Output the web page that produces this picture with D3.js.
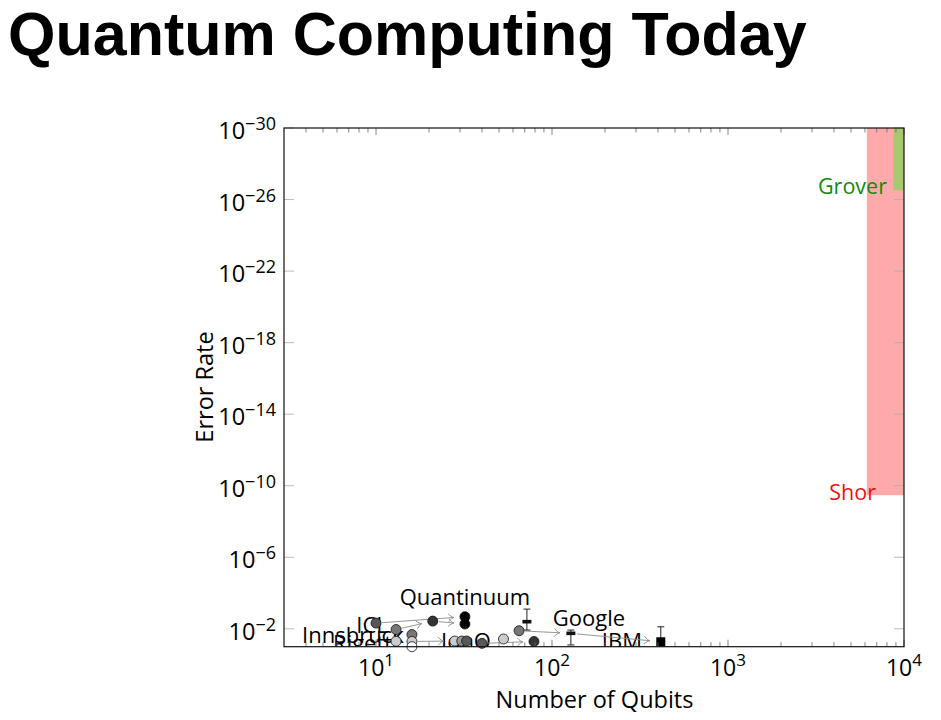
<!DOCTYPE html>
<html><head><meta charset="utf-8">
<script src="https://cdn.jsdelivr.net/npm/d3@7"></script>
<style>body{margin:0;background:#fff} svg{display:block}</style>
</head><body><svg id="c" width="941" height="720"></svg>
<script>
// ---------- data ----------
const title = "Quantum Computing Today";
const xLabel = "Number of Qubits";
const yLabel = "Error Rate";
const xTickExps = [1, 2, 3, 4];
const yTickExps = [-30, -26, -22, -18, -14, -10, -6, -2];

const circleQubits = [10, 13, 13, 16, 16, 16, 21, 32, 32, 28, 30.7, 32.7, 40, 53, 65, 79];
const circleErrors = [0.0048, 0.011, 0.05, 0.021, 0.051, 0.1, 0.0037, 0.0021, 0.0054, 0.048, 0.048, 0.048, 0.065, 0.037, 0.0128, 0.051];
const circleYears  = [2020, 2019, 2017, 2019, 2017, 2016, 2021, 2022, 2022, 2017, 2018, 2020, 2020, 2017, 2019, 2021];

const dashQubits = [72, 128];
const dashErrors = [0.004, 0.0179];
const dashErrLow = [0.00079, 0.0117];
const dashErrHigh = [0.0117, 0.08];

const squareQubits = [415];
const squareErrors = [0.053];
const squareErrLow = [0.0077];
const squareErrHigh = [0.3];

const arrowFromQubits = [10, 13, 21, 16, 40, 65, 128];
const arrowFromErrors = [0.0048, 0.011, 0.0037, 0.051, 0.065, 0.0128, 0.0179];
const arrowToQubits   = [32, 21, 32, 28, 79, 128, 415];
const arrowToErrors   = [0.0021, 0.0037, 0.0054, 0.048, 0.051, 0.0179, 0.053];

const labelTexts  = ["Innsbruck", "Rigetti", "ICL", "Quantinuum", "IonQ", "Google", "IBM"];
const labelQubits = [3.8, 5.7, 9.5, 32, 23.4, 101, 192];
const labelErrors = [0.062, 0.174, 0.0172, 0.00047, 0.134, 0.007, 0.13];

const algoNames = ["Shor", "Grover"];
const algoMinQubits = [6150, 8700];
const algoMaxErrors = [3.4e-10, 3e-27];
const algoLabelQubits = [6930, 8000];
const algoLabelErrors = [6.5e-10, 4.8e-27];

// ---------- layout / style ----------
const L = 284, R = 904, T = 128, B = 646.7;
const FONT = "'Open Sans', sans-serif";
const svg = d3.select("#c");
const x = d3.scaleLog().domain([3, 1e4]).range([L, R]);
const y = d3.scaleLog().domain([1e-30, 0.1]).range([T, B]);
const shade = d3.scaleOrdinal()
  .domain([2016, 2017, 2018, 2019, 2020, 2021, 2022])
  .range(["#ffffff", "#cccccc", "#9a9a9a", "#777777", "#585858", "#333333", "#000000"]);
const algoFill = d3.scaleOrdinal().domain(algoNames).range(["#ffaaaa", "#a5c96c"]);
const algoText = d3.scaleOrdinal().domain(algoNames).range(["#ee1111", "#108a10"]);

svg.append("defs").append("clipPath").attr("id", "plot")
  .append("rect").attr("x", L).attr("y", T).attr("width", R - L).attr("height", B - T);
svg.select("defs").append("marker").attr("id", "arr")
  .attr("markerUnits", "userSpaceOnUse").attr("orient", "auto")
  .attr("markerWidth", 12).attr("markerHeight", 12).attr("refX", 0).attr("refY", 0)
  .attr("viewBox", "-7 -6 8 12")
  .append("path").attr("d", "M-5.5,-4 C-3.5,-1.5 -1.5,-0.4 0,0 C-1.5,0.4 -3.5,1.5 -5.5,4")
  .attr("fill", "none").attr("stroke", "#8a8a8a").attr("stroke-width", 0.9);

// title
svg.append("text").attr("x", 8).attr("y", 55).text(title)
  .attr("font-family", "'Liberation Sans', Arial, sans-serif").attr("font-weight", "bold")
  .attr("font-size", 61).attr("fill", "#000");

const clipped = svg.append("g").attr("clip-path", "url(#plot)");

// algorithm regions
algoNames.forEach((n, i) => {
  clipped.append("rect")
    .attr("x", x(algoMinQubits[i])).attr("y", y(1e-30))
    .attr("width", x(1e4) - x(algoMinQubits[i]))
    .attr("height", y(algoMaxErrors[i]) - y(1e-30))
    .attr("fill", algoFill(n));
});
algoNames.forEach((n, i) => {
  svg.append("text").attr("x", x(algoLabelQubits[i])).attr("y", y(algoLabelErrors[i]))
    .attr("text-anchor", "end").attr("font-family", FONT).attr("font-size", 21.5)
    .attr("fill", algoText(n)).text(n);
});

// company labels (clipped)
labelTexts.forEach((t, i) => {
  clipped.append("text").attr("x", x(labelQubits[i])).attr("y", y(labelErrors[i]))
    .attr("text-anchor", t === "Quantinuum" || t === "ICL" ? "middle" : "start")
    .attr("font-family", FONT).attr("font-size", 22).attr("fill", "#000").text(t);
});

// arrows
arrowFromQubits.forEach((q, i) => {
  const x1 = x(q), y1 = y(arrowFromErrors[i]), x2 = x(arrowToQubits[i]), y2 = y(arrowToErrors[i]);
  const d = Math.hypot(x2 - x1, y2 - y1), ux = (x2 - x1) / d, uy = (y2 - y1) / d;
  clipped.append("line")
    .attr("x1", x1 + ux * 6).attr("y1", y1 + uy * 6)
    .attr("x2", x2 - ux * 11).attr("y2", y2 - uy * 11)
    .attr("stroke", "#8a8a8a").attr("stroke-width", 0.9).attr("marker-end", "url(#arr)");
});

// error bars
function errBar(q, lo, hi) {
  const g = clipped.append("g").attr("stroke", "#222").attr("stroke-width", 1);
  g.append("line").attr("x1", x(q)).attr("x2", x(q)).attr("y1", y(lo)).attr("y2", y(hi));
  [lo, hi].forEach(v => g.append("line").attr("x1", x(q) - 3.5).attr("x2", x(q) + 3.5)
    .attr("y1", y(v)).attr("y2", y(v)));
}
dashQubits.forEach((q, i) => errBar(q, dashErrLow[i], dashErrHigh[i]));
squareQubits.forEach((q, i) => errBar(q, squareErrLow[i], squareErrHigh[i]));

// markers
circleQubits.forEach((q, i) => {
  svg.append("circle").attr("cx", x(q)).attr("cy", y(circleErrors[i])).attr("r", 5)
    .attr("fill", shade(circleYears[i])).attr("stroke", "#111").attr("stroke-width", 0.8);
});
dashQubits.forEach((q, i) => {
  svg.append("rect").attr("x", x(q) - 4.5).attr("y", y(dashErrors[i]) - 1.8)
    .attr("width", 9).attr("height", 3.6).attr("fill", "#111");
});
squareQubits.forEach((q, i) => {
  svg.append("rect").attr("x", x(q) - 4.5).attr("y", y(squareErrors[i]) - 4.5)
    .attr("width", 9).attr("height", 9).attr("fill", "#000");
});

// ticks
const tg = svg.append("g");
const xMinor = [];
for (let e = 0; e <= 3; e++) for (let m = 2; m <= 9; m++) {
  const v = m * Math.pow(10, e);
  if (v > 3 && v < 1e4) xMinor.push(v);
}
xMinor.forEach(v => {
  [[B, B - 4.5], [T, T + 4.5]].forEach(([a, b]) =>
    tg.append("line").attr("x1", x(v)).attr("x2", x(v)).attr("y1", a).attr("y2", b)
      .attr("stroke", "#666").attr("stroke-width", 0.8));
});
xTickExps.forEach(e => {
  const v = Math.pow(10, e);
  [[B, B - 7], [T, T + 7]].forEach(([a, b]) =>
    tg.append("line").attr("x1", x(v)).attr("x2", x(v)).attr("y1", a).attr("y2", b)
      .attr("stroke", "#666").attr("stroke-width", 0.8));
  const t = svg.append("text").attr("x", x(v)).attr("y", 675.5).attr("text-anchor", "middle")
    .attr("font-family", FONT).attr("font-size", 23).attr("fill", "#000");
  t.append("tspan").text("10");
  t.append("tspan").attr("dy", -9.5).attr("font-size", 17).text(e);
});
yTickExps.forEach(e => {
  const v = Math.pow(10, e);
  [[L, L + 10], [R, R - 10]].forEach(([a, b]) =>
    tg.append("line").attr("y1", y(v)).attr("y2", y(v)).attr("x1", a).attr("x2", b)
      .attr("stroke", "#aaa").attr("stroke-width", 0.8));
  const t = svg.append("text").attr("x", 276).attr("y", y(v) + 11).attr("text-anchor", "end")
    .attr("font-family", FONT).attr("font-size", 23.5).attr("fill", "#000");
  t.append("tspan").text("10");
  t.append("tspan").attr("dy", -9).attr("font-size", 18).text("\u2212" + Math.abs(e));
});

// frame
svg.append("rect").attr("x", L).attr("y", T).attr("width", R - L).attr("height", B - T)
  .attr("fill", "none").attr("stroke", "#111").attr("stroke-width", 1.2);

// axis labels
svg.append("text").attr("x", 594.5).attr("y", 707.5).attr("text-anchor", "middle")
  .attr("font-family", FONT).attr("font-size", 23.5).attr("fill", "#000").text(xLabel);
svg.append("text").attr("transform", "translate(213,387) rotate(-90)").attr("text-anchor", "middle")
  .attr("font-family", FONT).attr("font-size", 23.5).attr("fill", "#000").text(yLabel);
</script></body></html>
